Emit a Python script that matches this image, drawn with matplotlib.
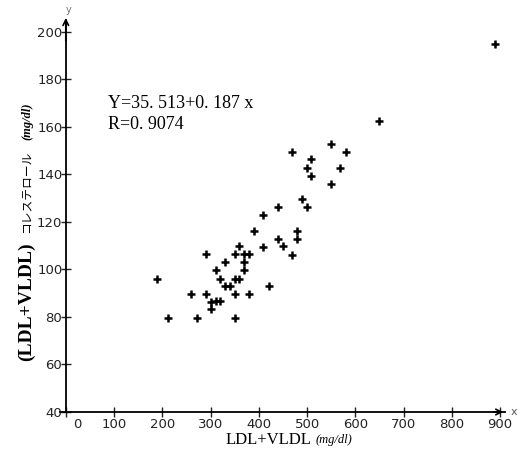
import matplotlib
matplotlib.use("Agg")
import matplotlib.pyplot as plt
import matplotlib.transforms as mtransforms

# LDL+VLDL (mg/dl) vs (LDL+VLDL) cholesterol (mg/dl)
ldl_vldl = [889, 649, 549, 469, 580, 509, 500, 569, 509, 549,
            490, 440, 500, 409, 390, 480, 440, 480, 409, 449,
            359, 290, 350, 370, 380, 469, 330, 370, 311, 370,
            190, 320, 350, 359, 330, 340, 420, 260, 290, 350,
            380, 300, 311, 320, 300, 211, 271, 350]
cholesterol = [195.1, 162.4, 152.8, 149.6, 149.6, 146.4, 142.7, 142.7, 139.5, 136.1,
               129.7, 126.3, 126.1, 123.1, 116.3, 116.3, 112.8, 112.9, 109.6, 109.7,
               109.8, 106.5, 106.4, 106.4, 106.5, 106.2, 103.0, 103.2, 99.7, 99.7,
               96.0, 96.1, 96.1, 96.1, 92.9, 92.9, 92.9, 89.7, 89.7, 89.7,
               89.8, 86.4, 86.6, 86.6, 83.2, 79.7, 79.7, 79.7]

x_ticks = list(range(0, 901, 100))
y_ticks = list(range(40, 201, 20))
eq_lines = ["Y=35. 513+0. 187 x", "R=0. 9074"]

fig = plt.figure(figsize=(5.2, 4.66), dpi=100)
ax = fig.add_axes([60 / 520, 54 / 466, 445 / 520, 392 / 466])
ax.set_xlim(-12, 910)
ax.set_ylim(40, 205)

for s in ["top", "right"]:
    ax.spines[s].set_visible(False)
ax.spines["left"].set_position(("data", 0))
ax.spines["left"].set_linewidth(1.3)
ax.spines["bottom"].set_linewidth(1.3)

ax.set_xticks(x_ticks)
ax.set_yticks(y_ticks)
ax.tick_params(direction="inout", length=7, width=1, labelsize=9.5,
               colors="#222222")
ax.tick_params(axis="x", pad=1)
ax.tick_params(axis="y", pad=-1)

# the "0" label sits a bit right of its tick
offset = mtransforms.ScaledTranslation(8 / 72, 0, fig.dpi_scale_trans)
lbl0 = ax.get_xticklabels()[0]
lbl0.set_transform(lbl0.get_transform() + offset)

# axis arrows and letters
ax.annotate("", xy=(912, 40), xytext=(880, 40),
            arrowprops=dict(arrowstyle="->", lw=1.2, color="black"),
            annotation_clip=False)
ax.annotate("", xy=(0, 207), xytext=(0, 195),
            arrowprops=dict(arrowstyle="->", lw=1.2, color="black"),
            annotation_clip=False)
ax.text(928, 40, "x", fontsize=8, color="#555555", ha="center", va="center",
        clip_on=False)
ax.text(5, 209, "y", fontsize=7, color="#777777", ha="center", va="center",
        clip_on=False)

ax.plot(ldl_vldl, cholesterol, linestyle="none", marker="+", ms=5.5,
        mew=1.8, color="black")

ax.text(88, 170, eq_lines[0], family="Liberation Serif", fontsize=13,
        va="center")
ax.text(88, 161, eq_lines[1], family="Liberation Serif", fontsize=13,
        va="center")

fig.text(311 / 520, 1 - 440 / 466, "LDL+VLDL", family="Liberation Serif",
         fontsize=12, ha="right", va="center")
fig.text(316 / 520, 1 - 440 / 466, "(mg/dl)", family="Liberation Serif",
         fontsize=9, style="italic", ha="left", va="center")

# y label in three pieces, bottom to top
fig.text(26 / 520, 1 - 302 / 466, "(LDL+VLDL)",
         family="Liberation Serif", fontsize=14,
         fontweight="bold", rotation=90, ha="center", va="center")
fig.text(27 / 520, 1 - 192 / 466, "コレステロール",
         family="Noto Sans CJK JP", fontsize=8.5,
         rotation=90, ha="center", va="center")
fig.text(27 / 520, 1 - 121 / 466, "(mg/dl)",
         family="Liberation Serif", fontsize=9,
         style="italic", fontweight="bold", rotation=90, ha="center",
         va="center")

fig.savefig("out.png", dpi=100)
